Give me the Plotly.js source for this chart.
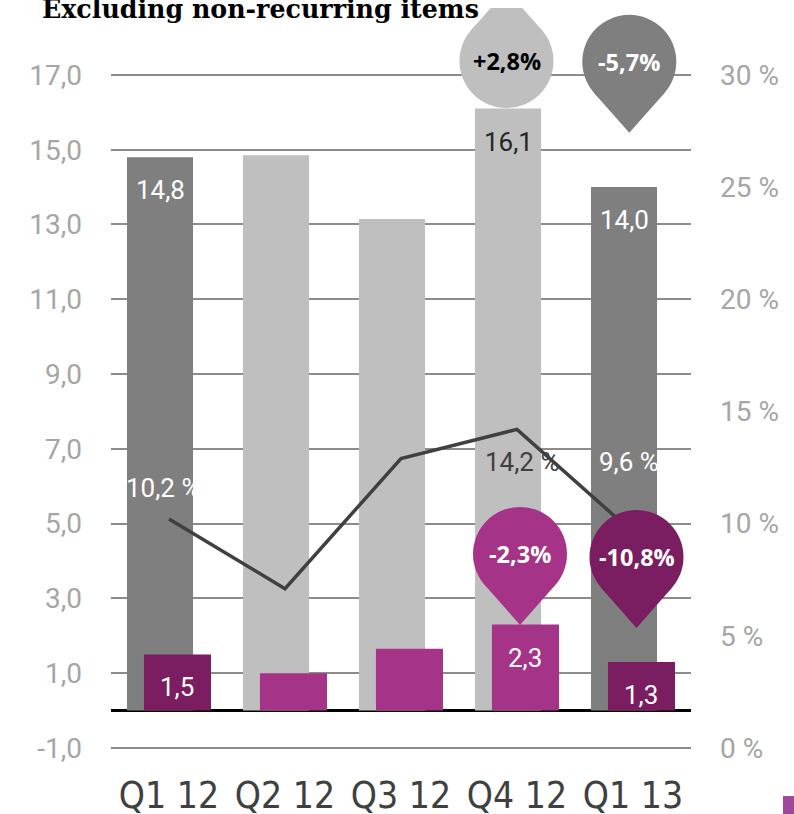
<!DOCTYPE html>
<html><head><meta charset="utf-8">
<script src="https://cdn.plot.ly/plotly-3.0.1.min.js"></script>
<style>html,body{margin:0;padding:0;background:#fff}#chart{width:794px;height:814px}</style>
</head><body><div id="chart"></div>
<script>
// ---- data ----
const categories = ['Q1 12', 'Q2 12', 'Q3 12', 'Q4 12', 'Q1 13'];
const totalValues = [14.8, 14.85, 13.15, 16.1, 14.0];
const adjValues = [1.5, 1.0, 1.65, 2.3, 1.3];
const marginPct = [10.2, 7.1, 12.9, 14.2, 9.6];
const totalLabels = ['14,8', '', '', '16,1', '14,0'];
const adjLabels = ['1,5', '', '', '2,3', '1,3'];
const marginLabels = ['10,2 %', '', '', '14,2 %', '9,6 %'];
const leftTickVals = [-1, 1, 3, 5, 7, 9, 11, 13, 15, 17];
const leftTickText = ['-1,0', '1,0', '3,0', '5,0', '7,0', '9,0', '11,0', '13,0', '15,0', '17,0'];
const rightTickVals = [0, 5, 10, 15, 20, 25, 30];
const rightTickText = ['0 %', '5 %', '10 %', '15 %', '20 %', '25 %', '30 %'];
const totalChange = ['', '', '', '+2,8%', '-5,7%'];
const adjChange = ['', '', '', '-2,3%', '-10,8%'];

// ---- styles ----
const greyColors = ['#7f7f7f', '#bfbfbf', '#bfbfbf', '#bfbfbf', '#7f7f7f'];
const purpleColors = ['#7a1d61', '#a53489', '#a53489', '#a53489', '#7a1d61'];
const totalLabelColors = ['#ffffff', '#ffffff', '#ffffff', '#262626', '#ffffff'];
const marginLabelColors = ['#ffffff', '#ffffff', '#ffffff', '#404040', '#ffffff'];
const marginLabelShift = [[-6, 31], [0, 0], [0, 0], [5, -33], [-4, 71]];

const yMin = -1.59, yMax = 18.79;
const toRight = v => (v + 1) * 30 / 18;

const numFont = 'Roboto, "DejaVu Sans", sans-serif';
const boldFont = '"Open Sans", "Noto Sans", sans-serif';

const traces = [
  {type: 'bar', x: categories, y: totalValues, width: 0.569, offset: -0.362,
   marker: {color: greyColors, line: {width: 0}}, hoverinfo: 'none'},
  {type: 'bar', x: categories, y: adjValues, width: 0.578, offset: -0.216,
   marker: {color: purpleColors, line: {width: 0}}, hoverinfo: 'none'},
  {type: 'scatter', mode: 'lines', x: categories, y: marginPct, yaxis: 'y2',
   line: {color: '#404040', width: 3.5}, hoverinfo: 'none'}
];

const annotations = [];
categories.forEach((c, i) => {
  if (totalLabels[i]) annotations.push({x: i, y: totalValues[i], xref: 'x', yref: 'y',
    text: totalLabels[i], showarrow: false, yanchor: 'top', xanchor: 'center', xshift: -9, yshift: -16,
    font: {family: numFont, size: 26, color: totalLabelColors[i]}});
  if (adjLabels[i]) annotations.push({x: i, y: adjValues[i], xref: 'x', yref: 'y',
    text: adjLabels[i], showarrow: false, yanchor: 'top', xanchor: 'center', xshift: 8, yshift: -16,
    font: {family: numFont, size: 26, color: '#ffffff'}});
  if (marginLabels[i]) annotations.push({x: i, y: marginPct[i], xref: 'x', yref: 'y2',
    text: marginLabels[i], showarrow: false, xanchor: 'center', yanchor: 'middle',
    xshift: marginLabelShift[i][0], yshift: marginLabelShift[i][1],
    font: {family: numFont, size: 26, color: marginLabelColors[i]}});
});

// balloons: [category index, anchor y (left axis units), x pixel shift, tip direction, color, text color, text]
const balloons = [
  [3, 17.37, -10.5, 1, '#bfbfbf', '#000000', totalChange[3]],
  [4, 17.35, -3.7, -1, '#7f7f7f', '#ffffff', totalChange[4]],
  [3, 4.19, 3, -1, '#a53489', '#ffffff', adjChange[3]],
  [4, 4.11, 3.5, -1, '#7a1d61', '#ffffff', adjChange[4]]
];
const shapes = [];
const R = 47, D = 71;
const th = Math.acos(R / D);
const sx = R * Math.sin(th), sy = R * Math.cos(th);
balloons.forEach(b => {
  const [ci, ya, dx, dir, col, tcol, txt] = b;
  shapes.push({type: 'circle', xref: 'x', yref: 'y', xsizemode: 'pixel', ysizemode: 'pixel',
    xanchor: ci, yanchor: ya, x0: dx - R, x1: dx + R, y0: -R, y1: R,
    fillcolor: col, line: {width: 0}, layer: 'above'});
  const p = `M${dx - sx},${dir * sy} L${dx},${dir * D} L${dx + sx},${dir * sy} L${dx},0 Z`;
  shapes.push({type: 'path', xref: 'x', yref: 'y', xsizemode: 'pixel', ysizemode: 'pixel',
    xanchor: ci, yanchor: ya, path: p, fillcolor: col, line: {width: 0}, layer: 'above'});
  annotations.push({x: ci, y: ya, xref: 'x', yref: 'y', text: '<b>' + txt + '</b>', showarrow: false,
    xanchor: 'center', yanchor: 'middle', xshift: dx, yshift: 0,
    font: {family: boldFont, size: 23.5, color: tcol}});
});

// title (cut at the top in the reference)
annotations.push({xref: 'paper', yref: 'paper', x: -0.1224, y: 1, xanchor: 'left', yanchor: 'bottom',
  yshift: -18, showarrow: false, text: '<b>Excluding non-recurring items</b>',
  font: {family: '"DejaVu Serif", serif', size: 25.3, color: '#000000'}});

// partial legend swatch at bottom-right
shapes.push({type: 'rect', xref: 'paper', yref: 'paper', x0: 1.1586, x1: 1.19, y0: -0.06, y1: -0.0341,
  fillcolor: '#a0479b', line: {width: 0}});

const layout = {
  width: 794, height: 814,
  margin: {l: 111, r: 103, t: 8, b: 44, pad: 0},
  paper_bgcolor: '#ffffff', plot_bgcolor: '#ffffff',
  showlegend: false, barmode: 'overlay',
  xaxis: {type: 'category', range: [-0.5, 4.5], showgrid: false, showline: false, zeroline: false,
    ticks: '', ticklabelstandoff: 0,
    tickfont: {family: '"Liberation Sans Narrow", "Arial Narrow", "DejaVu Sans Condensed", sans-serif', size: 37, color: '#404040'}},
  yaxis: {range: [yMin, yMax], tickmode: 'array', tickvals: leftTickVals, ticktext: leftTickText,
    showgrid: true, gridcolor: '#8c8c8c', gridwidth: 2,
    zeroline: true, zerolinecolor: '#000000', zerolinewidth: 3, showline: false, ticks: '',
    ticklabelstandoff: 28, tickfont: {family: numFont, size: 28, color: '#a6a6a6'}},
  yaxis2: {overlaying: 'y', side: 'right', range: [toRight(yMin), toRight(yMax)],
    tickmode: 'array', tickvals: rightTickVals, ticktext: rightTickText,
    showgrid: false, zeroline: false, showline: false, ticks: '',
    ticklabelstandoff: 28, tickfont: {family: numFont, size: 28, color: '#a6a6a6'}},
  annotations: annotations,
  shapes: shapes
};

Plotly.newPlot('chart', traces, layout, {staticPlot: true, displayModeBar: false});
</script>
</body></html>
